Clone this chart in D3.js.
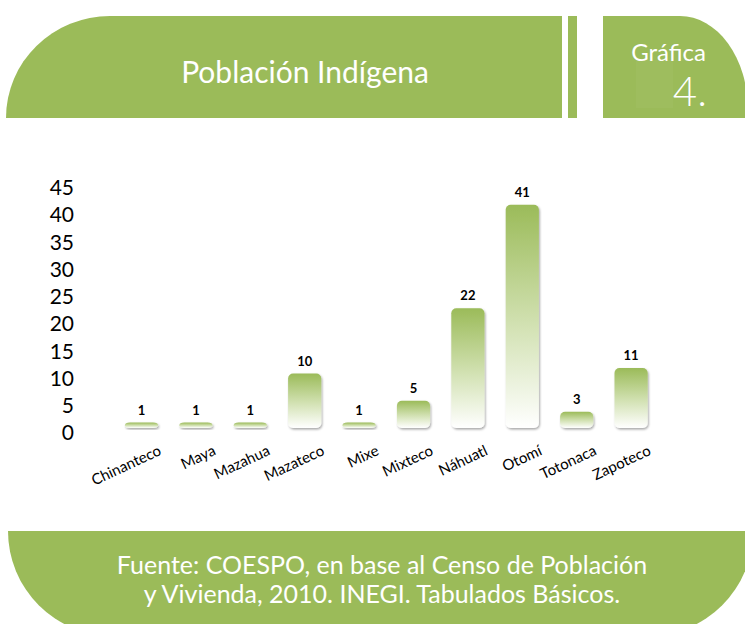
<!DOCTYPE html>
<html>
<head>
<meta charset="utf-8">
<script src="https://cdn.jsdelivr.net/npm/d3@7/dist/d3.min.js"></script>
<style>
  html, body { margin: 0; padding: 0; background: #ffffff; }
  svg { display: block; }
  text { font-family: Lato, "Open Sans", "DejaVu Sans", sans-serif; }
</style>
</head>
<body>
<svg id="chart" width="745" height="624"></svg>
<script>
const categories = ["Chinanteco", "Maya", "Mazahua", "Mazateco", "Mixe", "Mixteco", "Náhuatl", "Otomí", "Totonaca", "Zapoteco"];
const values = [1, 1, 1, 10, 1, 5, 22, 41, 3, 11];
const yTicks = [0, 5, 10, 15, 20, 25, 30, 35, 40, 45];
const title = "Población Indígena";
const badgeLabel = "Gráfica";
const badgeNumber = "4.";
const sourceLines = ["Fuente: COESPO, en base al Censo de Población", "y Vivienda, 2010. INEGI. Tabulados Básicos."];

const GREEN = "#9bbb59";
const svg = d3.select("#chart");
const defs = svg.append("defs");

const grad = defs.append("linearGradient").attr("id", "barGrad")
  .attr("x1", 0).attr("y1", 0).attr("x2", 0).attr("y2", 1);
grad.append("stop").attr("offset", "0%").attr("stop-color", "#9bbb59");
grad.append("stop").attr("offset", "55%").attr("stop-color", "#d3e2b4");
grad.append("stop").attr("offset", "100%").attr("stop-color", "#ffffff");

const shadow = defs.append("filter").attr("id", "shadow")
  .attr("x", "-20%").attr("y", "-20%").attr("width", "150%").attr("height", "150%");
shadow.append("feDropShadow").attr("dx", 1).attr("dy", 1.5).attr("stdDeviation", 1.2)
  .attr("flood-color", "#000").attr("flood-opacity", 0.35);

// ---- Header ----
svg.append("path")
  .attr("d", "M6,118 A104,102 0 0 1 110,16 H562 V118 Z")
  .attr("fill", GREEN);
svg.append("rect").attr("x", 568).attr("y", 16).attr("width", 9).attr("height", 102).attr("fill", GREEN);
svg.append("path")
  .attr("d", "M603,118 V16 H680 A68,94 0 0 1 748,110 V118 Z")
  .attr("fill", GREEN);
svg.append("rect").attr("x", 636).attr("y", 60).attr("width", 37).attr("height", 48)
  .attr("fill", "#ffffff").attr("opacity", 0.035);

svg.append("text").attr("x", 305).attr("y", 83)
  .attr("text-anchor", "middle").attr("fill", "#fff")
  .attr("font-size", 30).text(title);
svg.append("text").attr("x", 706).attr("y", 61)
  .attr("text-anchor", "end").attr("fill", "#fff")
  .attr("font-size", 24).text(badgeLabel);
svg.append("text").attr("x", 707).attr("y", 106)
  .attr("text-anchor", "end").attr("fill", "#fff").attr("font-weight", 300)
  .attr("font-size", 42).text(badgeNumber);

// ---- Footer ----
svg.append("path")
  .attr("d", "M8,531 H753 A105,105 0 0 1 648,636 H113 A105,105 0 0 1 8,531 Z")
  .attr("fill", GREEN);
svg.append("g").selectAll("text").data(sourceLines).join("text")
  .attr("x", 382).attr("y", (d, i) => 574 + i * 29)
  .attr("text-anchor", "middle").attr("fill", "#fff")
  .attr("font-size", 25).text(d => d);

// ---- Chart ----
const x = d3.scaleBand().domain(categories).range([114.3, 658.3])
  .paddingInner(0.39).paddingOuter(0.195);
const y = d3.scaleLinear().domain([0, 45]).range([433, 188]);

const yAxis = svg.append("g").attr("transform", "translate(74,0)")
  .call(d3.axisLeft(y).tickValues(yTicks).tickSize(0).tickPadding(0));
yAxis.select(".domain").remove();
yAxis.selectAll("text").attr("font-size", 21).attr("fill", "#000")
  .attr("font-family", "Lato, 'Open Sans', sans-serif");

// baseline
svg.append("line")
  .attr("x1", 91).attr("x2", 704)
  .attr("y1", y(0) + 1.5).attr("y2", y(0) + 1.5)
  .attr("stroke", GREEN).attr("stroke-width", 3.5)
  .attr("filter", "url(#shadow)");

const bars = svg.append("g").attr("transform", "translate(0,-5)");
bars.selectAll("rect").data(values).join("rect")
  .attr("x", (d, i) => x(categories[i]))
  .attr("width", x.bandwidth())
  .attr("y", d => y(d))
  .attr("height", d => y(0) - y(d))
  .attr("rx", 5).attr("ry", 5)
  .attr("fill", "url(#barGrad)")
  .attr("filter", "url(#shadow)");

bars.selectAll("text").data(values).join("text")
  .attr("x", (d, i) => x(categories[i]) + x.bandwidth() / 2)
  .attr("y", d => y(d) - 8)
  .attr("text-anchor", "middle").attr("font-size", 13).attr("font-weight", 700)
  .attr("fill", "#000").text(d => d);

svg.append("g").selectAll("text").data(categories).join("text")
  .attr("transform", d => `translate(${x(d) + x.bandwidth() / 2 + 16},444) rotate(-25)`)
  .attr("dy", "0.75em")
  .attr("text-anchor", "end").attr("font-size", 15).attr("fill", "#000")
  .text(d => d);
</script>
</body>
</html>
